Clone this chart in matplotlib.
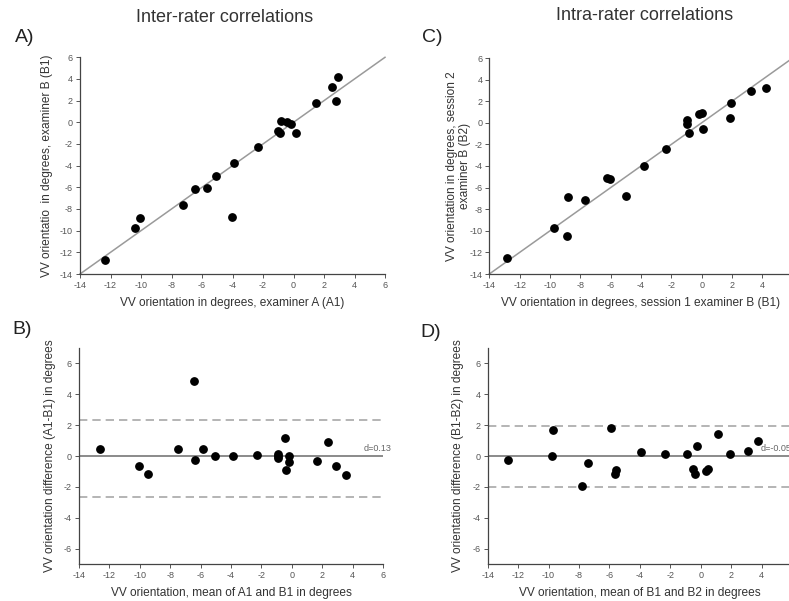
import matplotlib
matplotlib.use("Agg")
import matplotlib.pyplot as plt
import numpy as np

plt.rcParams['font.family'] = ['Liberation Sans', 'DejaVu Sans']
plt.rcParams['axes.unicode_minus'] = False

# Inter-rater: examiner A (A1) vs examiner B (B1)
a1 = [-12.36, -10.39, -10.07, -7.27, -6.48, -5.67, -5.06, -4.03, -3.90, -2.31,
      -1.04, -0.89, -0.82, -0.43, -0.14, 0.14, 1.48, 2.55, 2.77, 2.92]
b1 = [-12.71, -9.72, -8.80, -7.63, -6.18, -6.03, -4.98, -8.77, -3.78, -2.31,
      -0.80, -0.98, 0.09, 0.00, -0.15, -0.95, 1.82, 3.23, 1.97, 4.22]

# Intra-rater: session 1 (B1) vs session 2 (B2)
s1 = [-12.81, -9.76, -8.84, -8.86, -7.66, -6.23, -6.05, -5.02, -3.82, -2.32,
      -0.98, -0.96, -0.81, -0.15, 0.05, 0.11, 1.87, 1.96, 3.25, 4.22]
s2 = [-12.49, -9.74, -6.84, -10.51, -7.15, -5.08, -5.17, -6.81, -4.03, -2.40,
      0.26, -0.08, -0.94, 0.81, 0.88, -0.54, 0.41, 1.86, 2.98, 3.22]

# Bland-Altman, inter-rater: mean of A1 and B1 vs A1-B1
ba_mean_ab = [-12.62, -10.08, -9.47, -7.47, -6.44, -6.38, -5.87, -5.04, -3.86, -2.32,
              -0.92, -0.92, -0.92, -0.42, -0.37, -0.16, -0.20, 1.66, 2.36, 2.91, 3.57]
ba_diff_ab = [0.44, -0.62, -1.16, 0.44, 4.83, -0.23, 0.44, -0.01, -0.01, 0.05,
              0.16, 0.01, -0.14, 1.18, -0.90, 0.01, -0.42, -0.31, 0.88, -0.64, -1.22]
loa_ab = [2.32, -2.65]
bias_ab = 0.13

# Bland-Altman, intra-rater: mean of B1 and B2 vs B1-B2
ba_mean_bb = [-12.69, -9.73, -9.75, -7.40, -7.80, -5.92, -5.59, -5.65, -3.90, -2.37,
              -0.88, -0.53, -0.35, -0.22, 0.35, 0.50, 1.16, 1.93, 3.13, 3.74]
ba_diff_bb = [-0.25, 1.69, 0.03, -0.46, -1.97, 1.82, -0.89, -1.15, 0.25, 0.12,
              0.14, -0.85, -1.17, 0.68, -0.94, -0.87, 1.45, 0.12, 0.33, 1.00]
loa_bb = [1.95, -1.99]
bias_bb = -0.05

ticks_xy = list(range(-14, 7, 2))
ticks_diff = list(range(-6, 7, 2))

panel_letters = ["A)", "C)", "B)", "D)"]
letter_px_x = [25, 432, 22, 431]
letter_px_y = [37, 37, 330, 333]

W, H = 789, 601
fig = plt.figure(figsize=(W / 100, H / 100), dpi=100)

TXT = '#333333'
TICK = '#555555'


def make_axes(left, right, top, bottom):
    return fig.add_axes([left / W, 1 - bottom / H, (right - left) / W, (bottom - top) / H])


def style(ax):
    for s in ('top', 'right'):
        ax.spines[s].set_visible(False)
    for s in ('left', 'bottom'):
        ax.spines[s].set_color('#444444')
        ax.spines[s].set_linewidth(0.9)
    ax.tick_params(direction='out', length=3, width=0.7, colors=TICK,
                   labelsize=6.5, labelcolor=TICK, pad=2)


def scatter_panel(ax, x, y, xlabel, ylabel, ypad):
    ax.plot([-14, 6], [-14, 6], color='#9a9a9a', lw=1.1, zorder=1, clip_on=False)
    ax.scatter(x, y, s=28, color='black', zorder=3, clip_on=False)
    ax.set_xlim(-14, 6)
    ax.set_ylim(-14, 6)
    ax.set_xticks(ticks_xy)
    ax.set_yticks(ticks_xy)
    ax.set_xlabel(xlabel, fontsize=8.6, color=TXT, labelpad=5)
    ax.set_ylabel(ylabel, fontsize=8.6, color=TXT, labelpad=ypad, linespacing=1.05)
    style(ax)


def ba_panel(ax, x, y, loa, bias, xlabel, ylabel, label_x):
    ax.axhline(0, color='#8a8a8a', lw=1.4, zorder=1)
    for v in loa:
        ax.axhline(v, color='#a8a8a8', lw=1.2, ls=(0, (5, 3)), zorder=1)
    ax.scatter(x, y, s=28, color='black', zorder=3, clip_on=False)
    ax.text(label_x, 0.18, f'd={bias:.2f}', fontsize=6.5, color='#666666',
            ha='left', va='bottom')
    ax.set_xlim(-14, 6)
    ax.set_ylim(-7, 7)
    ax.set_xticks(ticks_xy)
    ax.set_yticks(ticks_diff)
    ax.set_xlabel(xlabel, fontsize=8.6, color=TXT, labelpad=5)
    ax.set_ylabel(ylabel, fontsize=8.6, color=TXT, labelpad=6)
    style(ax)


axA = make_axes(80, 385, 57.3, 274)
scatter_panel(axA, a1, b1, 'VV orientation in degrees, examiner A (A1)',
              'VV orientatio  in degrees, examiner B (B1)', 5)

axC = make_axes(489.3, 792.7, 58, 274)
scatter_panel(axC, s1, s2, 'VV orientation in degrees, session 1 examiner B (B1)',
              'VV orientation in degrees, session 2\nexaminer B (B2)', -1)

axB = make_axes(79, 383, 348, 564)
ba_panel(axB, ba_mean_ab, ba_diff_ab, loa_ab, bias_ab,
         'VV orientation, mean of A1 and B1 in degrees',
         'VV orientation difference (A1-B1) in degrees', 4.7)

axD = make_axes(487.7, 792, 348, 564)
ba_panel(axD, ba_mean_bb, ba_diff_bb, loa_bb, bias_bb,
         'VV orientation, mean of B1 and B2 in degrees',
         'VV orientation difference (B1-B2) in degrees', 3.95)

fig.text(225 / W, 1 - 18 / H, 'Inter-rater correlations', fontsize=13, color=TXT,
         ha='center', va='center')
fig.text(645 / W, 1 - 16 / H, 'Intra-rater correlations', fontsize=13, color=TXT,
         ha='center', va='center')
for i in range(len(panel_letters)):
    fig.text(letter_px_x[i] / W, 1 - letter_px_y[i] / H, panel_letters[i],
             fontsize=14, color='#222222', ha='center', va='center')

fig.savefig('out.png', dpi=100)
